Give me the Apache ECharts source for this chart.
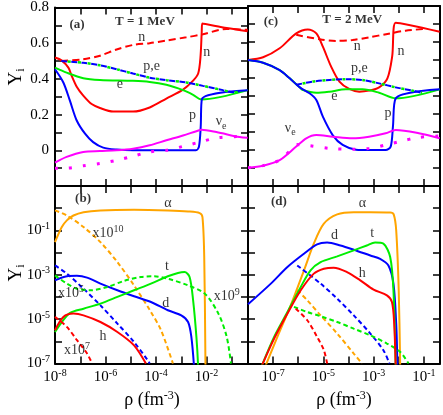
<!DOCTYPE html>
<html>
<head>
<meta charset="utf-8">
<script src="https://cdn.jsdelivr.net/npm/echarts@6/dist/echarts.min.js"></script>
<style>
  html, body { margin: 0; padding: 0; background: #fff; }
  #main { width: 443px; height: 415px; }
</style>
</head>
<body>
<div id="main"></div>
<script>
// points are [log10(rho), Y] for the top panels, [log10(rho), log10(Y)] for the bottom ones

// (a) T = 1 MeV
var a_n      = [[-8,0.52],[-7.74,0.504],[-7.47,0.463],[-7.34,0.417],[-7.14,0.356],[-6.88,0.306],[-6.55,0.259],[-6.22,0.237],[-5.7,0.217],[-4.91,0.217],[-4.25,0.24],[-3.59,0.29],[-2.93,0.34],[-2.53,0.39],[-2.33,0.43],[-2.24,0.52],[-2.19,0.66],[-2.17,0.71],[-1.2,0.685],[-0.37,0.667]];
var a_nDash  = [[-7.75,0.5],[-6.88,0.51],[-6.22,0.53],[-5.56,0.565],[-4.91,0.59],[-4.25,0.6],[-3.59,0.615],[-2.8,0.633],[-2.14,0.65],[-1.21,0.68],[-0.37,0.675]];
var a_pe     = [[-7.75,0.5],[-6.88,0.49],[-6.22,0.476],[-5.56,0.454],[-4.91,0.43],[-4.25,0.407],[-3.59,0.393],[-2.8,0.38],[-2.14,0.361],[-1.35,0.337],[-0.95,0.325],[-0.7,0.328]];
var a_p      = [[-8,0.454],[-7.67,0.38],[-7.41,0.278],[-7.14,0.167],[-6.81,0.093],[-6.49,0.046],[-6.09,0.015],[-5.56,0.004],[-4.91,0],[-2.42,0],[-2.3,0.02],[-2.23,0.13],[-2.18,0.287],[-0.37,0.337]];
var a_e      = [[-8,0.463],[-7.54,0.435],[-6.88,0.404],[-6.22,0.394],[-4.91,0.389],[-4.25,0.383],[-3.59,0.367],[-2.93,0.337],[-2.53,0.311],[-2.2,0.285],[-0.37,0.337]];
var a_nu     = [[-8,-0.069],[-7.54,-0.037],[-6.88,-0.009],[-6.22,-0.004],[-5.56,0],[-4.91,0.009],[-4.25,0.028],[-3.59,0.056],[-2.93,0.083],[-2.4,0.107],[-2.2,0.115],[-1.61,0.102],[-0.69,0.074],[-0.37,0.07]];
var a_nuDot  = [[-8,-0.1],[-7.54,-0.1],[-6.88,-0.087],[-6.22,-0.074],[-5.56,-0.056],[-4.91,-0.033],[-4.25,-0.009],[-3.59,0],[-2.93,0.022],[-2.27,0.046],[-1.61,0.069],[-0.69,0.078],[-0.37,0.08]];

// (c) T = 2 MeV
var c_n      = [[-8,0.5],[-7.4,0.515],[-6.74,0.565],[-6.08,0.648],[-5.62,0.67],[-5.28,0.648],[-5.02,0.574],[-4.69,0.463],[-4.36,0.38],[-3.97,0.339],[-3.57,0.324],[-3.18,0.33],[-2.78,0.348],[-2.45,0.398],[-2.26,0.52],[-2.12,0.707],[-0.37,0.657]];
var c_nDash  = [[-6.08,0.64],[-5.15,0.615],[-4.49,0.606],[-3.84,0.611],[-3.18,0.626],[-2.45,0.645],[-1.73,0.663],[-0.93,0.673]];
var c_pe     = [[-6.08,0.362],[-5.42,0.38],[-4.76,0.389],[-4.1,0.393],[-3.44,0.389],[-2.78,0.37],[-2.12,0.348],[-1.46,0.33],[-1.07,0.318]];
var c_p      = [[-8,0.5],[-7.4,0.485],[-6.74,0.444],[-6.34,0.398],[-5.94,0.348],[-5.55,0.315],[-5.28,0.278],[-5.02,0.185],[-4.63,0.083],[-4.23,0.028],[-3.7,0.002],[-3.18,0],[-2.52,0],[-2.32,0.019],[-2.23,0.13],[-2.12,0.287],[-0.37,0.337]];
var c_e      = [[-8,0.5],[-7.4,0.485],[-6.74,0.444],[-6.34,0.398],[-5.94,0.348],[-5.81,0.333],[-5.28,0.318],[-4.76,0.324],[-4.1,0.337],[-3.44,0.337],[-2.78,0.318],[-2.12,0.287],[-0.37,0.337]];
var c_nu     = [[-8,-0.098],[-7.4,-0.087],[-6.74,-0.056],[-6.08,0.019],[-5.68,0.065],[-5.28,0.083],[-4.63,0.074],[-3.84,0.065],[-3.18,0.074],[-2.52,0.093],[-2.12,0.111],[-1.2,0.093],[-0.37,0.065]];
var c_nuDot  = [[-8,-0.098],[-7.4,-0.087],[-6.74,-0.056],[-6.3,0],[-6.08,0.03],[-5.55,0.024],[-4.76,0.009],[-3.84,0.004],[-3.18,0.009],[-2.52,0.028],[-1.99,0.046],[-1.2,0.07],[-0.37,0.078]];

// (b) T = 1 MeV, clusters
var b_alpha  = [[-8,-1.53],[-7.73,-0.85],[-7.53,-0.55],[-7.27,-0.33],[-6.87,-0.18],[-6.2,-0.1],[-4.87,-0.07],[-3.53,-0.1],[-2.73,-0.145],[-2.27,-0.22],[-2.16,-0.4],[-2.09,-2.2],[-2.04,-7.2]];
var b_alphaX = [[-8,-0.1],[-7.53,-0.33],[-6.87,-0.85],[-6.2,-1.53],[-5.53,-2.43],[-4.87,-3.48],[-4.2,-4.68],[-3.8,-5.5],[-3.33,-7]];
var b_d      = [[-8,-3.25],[-7.53,-3.07],[-7.13,-3.05],[-6.73,-3.13],[-6.2,-3.4],[-5.53,-3.7],[-4.87,-3.97],[-4.2,-4.23],[-3.53,-4.6],[-3.0,-4.83],[-2.73,-5.13],[-2.6,-5.8],[-2.49,-7.2]];
var b_dX     = [[-8,-2.58],[-7.53,-2.95],[-6.87,-3.63],[-6.2,-4.38],[-5.53,-5.2],[-4.87,-6.03],[-4.33,-6.85],[-4.25,-7]];
var b_t      = [[-8,-5.58],[-7.73,-5.13],[-7.4,-4.72],[-6.87,-4.53],[-6.2,-4.3],[-5.53,-4.0],[-4.87,-3.7],[-4.2,-3.4],[-3.53,-3.07],[-3.13,-2.92],[-2.87,-2.88],[-2.67,-3.1],[-2.53,-4.15],[-2.4,-5.8],[-2.33,-7.2]];
var b_tX     = [[-8,-3.03],[-7.53,-3.4],[-7.13,-3.63],[-6.6,-3.7],[-5.93,-3.55],[-5.27,-3.28],[-4.6,-3.1],[-4.07,-3.07],[-3.53,-3.18],[-2.73,-3.48],[-2.07,-3.85],[-1.53,-4.75],[-1.2,-5.8],[-1.03,-7]];
var b_h      = [[-8,-5.5],[-7.67,-4.9],[-7.27,-4.75],[-6.87,-4.83],[-6.2,-5.13],[-5.53,-5.58],[-4.87,-6.18],[-4.4,-7]];
var b_hX     = [[-8,-4.9],[-7.53,-5.35],[-7.13,-5.95],[-6.73,-6.55],[-6.53,-7]];

// (d) T = 2 MeV, clusters
var d_alpha  = [[-7.3,-7.1],[-6.83,-5.8],[-6.3,-4.38],[-5.77,-2.8],[-5.38,-1.6],[-4.98,-0.7],[-4.45,-0.28],[-3.79,-0.18],[-3.13,-0.18],[-2.34,-0.19],[-2.2,-0.28],[-2.1,-1],[-2.0,-3.7],[-1.94,-7.2]];
var d_alphaX = [[-6.04,-3.7],[-5.64,-4.15],[-5.11,-4.83],[-4.45,-5.65],[-3.79,-6.55],[-3.46,-7]];
var d_d      = [[-8,-4.33],[-7.09,-3.4],[-6.43,-2.65],[-5.77,-2.05],[-5.25,-1.63],[-4.85,-1.55],[-4.32,-1.68],[-3.79,-1.87],[-3.13,-2.13],[-2.74,-2.28],[-2.41,-2.58],[-2.21,-3.4],[-2.1,-5.2],[-2.05,-7.2]];
var d_dX     = [[-6.04,-2.58],[-5.11,-3.4],[-4.45,-4.08],[-3.79,-4.83],[-3.13,-5.65],[-2.61,-6.4],[-2.37,-7]];
var d_t      = [[-7.45,-7.1],[-6.96,-5.8],[-6.43,-4.68],[-5.9,-3.55],[-5.51,-2.8],[-5.11,-2.43],[-4.45,-2.17],[-3.79,-1.9],[-3.27,-1.68],[-2.94,-1.55],[-2.61,-1.6],[-2.34,-2.2],[-2.21,-3.7],[-2.12,-7.2]];
var d_tX     = [[-6.17,-4.45],[-5.64,-4.68],[-5.11,-4.87],[-4.45,-5.13],[-3.79,-5.43],[-3.13,-5.73],[-2.47,-6.1],[-1.94,-6.48],[-1.61,-7]];
var d_h      = [[-7.45,-7.1],[-6.96,-5.88],[-6.43,-4.75],[-5.9,-3.7],[-5.38,-2.95],[-4.98,-2.73],[-4.59,-2.68],[-4.06,-2.88],[-3.53,-3.25],[-3.0,-3.67],[-2.47,-3.93],[-2.27,-4.23],[-2.18,-5.2],[-2.12,-7.2]];
var d_hX     = [[-6.1,-4.53],[-5.64,-5.05],[-5.25,-5.8],[-4.98,-6.4],[-4.85,-7]];

// curve labels: [log10 rho, Y or log10 Y, text]
var a_labels = [[-7.13,0.694,'{b|(a)}'],[-4.44,0.711,'{b|T = 1 MeV}'],[-4.56,0.622,'n'],[-1.99,0.539,'n'],[-4.17,0.461,'p,e'],[-5.43,0.356,'e'],[-2.55,0.183,'p'],[-1.42,0.15,'ν{sub|e}']];
var c_labels = [[-7.09,0.70,'{b|(c)}'],[-3.85,0.711,'{b|T = 2 MeV}'],[-3.65,0.567,'n'],[-1.91,0.539,'n'],[-3.57,0.444,'p,e'],[-4.56,0.289,'e'],[-2.43,0.194,'p'],[-6.32,0.111,'ν{sub|e}']];
var b_labels = [[-6.89,0.35,'{b|(b)}'],[-3.53,0.125,'α'],[-5.9,-1.22,'x10{sup|10}'],[-3.57,-2.71,'t'],[-7.37,-3.93,'x10{sup|5}'],[-3.61,-4.38,'d'],[-1.2,-4.06,'x10{sup|9}'],[-6.1,-5.86,'h'],[-7.13,-6.49,'x10{sup|7}']];
var d_labels = [[-6.77,0.215,'{b|(d)}'],[-3.45,0.125,'α'],[-4.56,-1.32,'d'],[-3.06,-1.23,'t'],[-3.45,-3.03,'h']];

var xLabelsLeft = [-8, -6, -4, -2];
var xLabelsRight = [-7, -5, -3, -1];
var yLogLabels = [-7, -5, -3, -1];

var FONT = '"Liberation Serif", "DejaVu Serif", serif';
var RED = '#ff0000', GREEN = '#00ee00', BLUE = '#0000ff', ORANGE = '#ffa500', MAGENTA = '#ff00ff';

var supRich = {
  s: { fontFamily: FONT, fontSize: 10, color: '#000', verticalAlign: 'top', padding: [0, 0, 8, 0] }
};

function expFormatter(keep) {
  return function (v) {
    var e = Math.log10(v), r = Math.round(e);
    if (Math.abs(e - r) > 1e-6 || keep.indexOf(r) < 0) return '';
    return '10{s|' + r + '}';
  };
}

function frameTick() {
  return { inside: true, length: 7, lineStyle: { color: '#000', width: 1.5 } };
}

function xAxis(gi, pos, keep) {
  return {
    type: 'log', logBase: 10, gridIndex: gi, position: pos,
    min: 1e-8, max: 0.44, interval: 1,
    axisLine: { onZero: false, lineStyle: { color: '#000', width: 2 } },
    axisTick: frameTick(),
    splitLine: { show: false },
    axisLabel: keep ? {
      show: true, margin: 5, color: '#000', fontFamily: FONT, fontSize: 15,
      formatter: expFormatter(keep), rich: supRich
    } : { show: false }
  };
}

function yLinAxis(gi, pos, labels) {
  return {
    type: 'value', gridIndex: gi, position: pos,
    min: -0.2, max: 0.8, interval: 0.1,
    axisLine: { onZero: false, lineStyle: { color: '#000', width: 2 } },
    axisTick: frameTick(),
    splitLine: { show: false },
    axisLabel: labels ? {
      show: true, margin: 6, color: '#000', fontFamily: FONT, fontSize: 15,
      formatter: function (v) {
        var r = Math.round(v * 10);
        if (r < 0 || r % 2) return '';
        return r === 0 ? '0' : (r / 10).toFixed(1);
      }
    } : { show: false }
  };
}

function yLogAxis(gi, pos, labels) {
  return {
    type: 'log', logBase: 10, gridIndex: gi, position: pos,
    min: 1e-7, max: 10, interval: 1,
    axisLine: { onZero: false, lineStyle: { color: '#000', width: 2 } },
    axisTick: frameTick(),
    splitLine: { show: false },
    axisLabel: labels ? {
      show: true, margin: 5, color: '#000', fontFamily: FONT, fontSize: 15,
      formatter: expFormatter(yLogLabels), rich: supRich
    } : { show: false }
  };
}

function curve(pts, ax, color, dash, logY, width, offset) {
  return {
    type: 'line', xAxisIndex: ax, yAxisIndex: ax,
    data: pts.map(function (p) { return [Math.pow(10, p[0]), logY ? Math.pow(10, p[1]) : p[1]]; }),
    showSymbol: false, symbol: 'none', smooth: 0.3, silent: true,
    lineStyle: { color: color, width: width || 2, type: dash || 'solid', dashOffset: offset || 0, cap: 'butt' }
  };
}

function labels(rows, ax, logY) {
  return {
    type: 'scatter', xAxisIndex: ax, yAxisIndex: ax, silent: true,
    symbolSize: 1, itemStyle: { color: 'rgba(0,0,0,0)' }, z: 10,
    data: rows.map(function (r) { return [Math.pow(10, r[0]), logY ? Math.pow(10, r[1]) : r[1], r[2]]; }),
    label: {
      show: true, position: 'inside', offset: [0, -2], color: '#000', fontFamily: FONT, fontSize: 14,
      formatter: function (p) { return p.data[2]; },
      rich: {
        b: { fontFamily: FONT, fontSize: 13, fontWeight: 'bold', color: '#000' },
        sup: { fontFamily: FONT, fontSize: 10, color: '#000', verticalAlign: 'top', padding: [0, 0, 8, 0] },
        sub: { fontFamily: FONT, fontSize: 10, color: '#000', verticalAlign: 'bottom', padding: [9, 0, 0, 0] }
      }
    }
  };
}

var DASH = [7, 4], DASH2 = [4.5, 3], PE_BLUE = [6, 4], PE_GREEN = [3, 7], DOT = [3, 11];

var chart = echarts.init(document.getElementById('main'), null, { renderer: 'canvas' });
chart.setOption({
  animation: false,
  backgroundColor: '#fff',
  grid: [
    { left: 55, top: 6, width: 193, height: 180 },
    { left: 248, top: 6, width: 192, height: 180 },
    { left: 55, top: 186, width: 193, height: 177.5 },
    { left: 248, top: 186, width: 192, height: 177.5 }
  ],
  xAxis: [
    xAxis(0, 'bottom'), xAxis(0, 'top'),
    xAxis(1, 'bottom'), xAxis(1, 'top'),
    xAxis(2, 'bottom', xLabelsLeft), xAxis(2, 'top'),
    xAxis(3, 'bottom', xLabelsRight), xAxis(3, 'top')
  ],
  yAxis: [
    yLinAxis(0, 'left', true), yLinAxis(0, 'right'),
    yLinAxis(1, 'left'), yLinAxis(1, 'right'),
    yLogAxis(2, 'left', true), yLogAxis(2, 'right'),
    yLogAxis(3, 'left'), yLogAxis(3, 'right')
  ],
  graphic: [
    { type: 'text', x: 16, y: 77, rotation: Math.PI / 2, style: { text: 'Y{s|i}', fontFamily: FONT, fontSize: 19, fill: '#000', align: 'center', verticalAlign: 'middle', rich: { s: { fontFamily: FONT, fontSize: 12, fill: '#000', verticalAlign: 'bottom', padding: [10, 0, 0, 0] } } } },
    { type: 'text', x: 16, y: 273, rotation: Math.PI / 2, style: { text: 'Y{s|i}', fontFamily: FONT, fontSize: 19, fill: '#000', align: 'center', verticalAlign: 'middle', rich: { s: { fontFamily: FONT, fontSize: 12, fill: '#000', verticalAlign: 'bottom', padding: [10, 0, 0, 0] } } } },
    { type: 'text', x: 152, y: 400, style: { text: 'ρ (fm{s|-3})', fontFamily: FONT, fontSize: 18, fill: '#000', align: 'center', verticalAlign: 'middle', rich: { s: { fontFamily: FONT, fontSize: 12, fill: '#000', verticalAlign: 'top', padding: [0, 0, 9, 0] } } } },
    { type: 'text', x: 344, y: 400, style: { text: 'ρ (fm{s|-3})', fontFamily: FONT, fontSize: 18, fill: '#000', align: 'center', verticalAlign: 'middle', rich: { s: { fontFamily: FONT, fontSize: 12, fill: '#000', verticalAlign: 'top', padding: [0, 0, 9, 0] } } } }
  ],
  series: [
    // (a)
    curve(a_nDash, 0, RED, DASH), curve(a_n, 0, RED),
    curve(a_e, 0, GREEN), curve(a_p, 0, BLUE),
    curve(a_pe, 0, BLUE, PE_BLUE), curve(a_pe, 0, GREEN, PE_GREEN, false, 2.5, 3.5),
    curve(a_nu, 0, MAGENTA), curve(a_nuDot, 0, MAGENTA, DOT, false, 3),
    labels(a_labels, 0),
    // (c)
    curve(c_nDash, 2, RED, DASH), curve(c_n, 2, RED),
    curve(c_e, 2, GREEN), curve(c_p, 2, BLUE),
    curve(c_pe, 2, BLUE, PE_BLUE), curve(c_pe, 2, GREEN, PE_GREEN, false, 2.5, 3.5),
    curve(c_nu, 2, MAGENTA), curve(c_nuDot, 2, MAGENTA, DOT, false, 3),
    labels(c_labels, 2),
    // (b)
    curve(b_alpha, 4, ORANGE, null, true), curve(b_alphaX, 4, ORANGE, DASH2, true),
    curve(b_d, 4, BLUE, null, true), curve(b_dX, 4, BLUE, DASH2, true),
    curve(b_t, 4, GREEN, null, true), curve(b_tX, 4, GREEN, DASH2, true),
    curve(b_h, 4, RED, null, true), curve(b_hX, 4, RED, DASH2, true),
    labels(b_labels, 4, true),
    // (d)
    curve(d_alpha, 6, ORANGE, null, true), curve(d_alphaX, 6, ORANGE, DASH2, true),
    curve(d_d, 6, BLUE, null, true), curve(d_dX, 6, BLUE, DASH2, true),
    curve(d_t, 6, GREEN, null, true), curve(d_tX, 6, GREEN, DASH2, true),
    curve(d_h, 6, RED, null, true), curve(d_hX, 6, RED, DASH2, true),
    labels(d_labels, 6, true)
  ]
});
</script>
</body>
</html>
